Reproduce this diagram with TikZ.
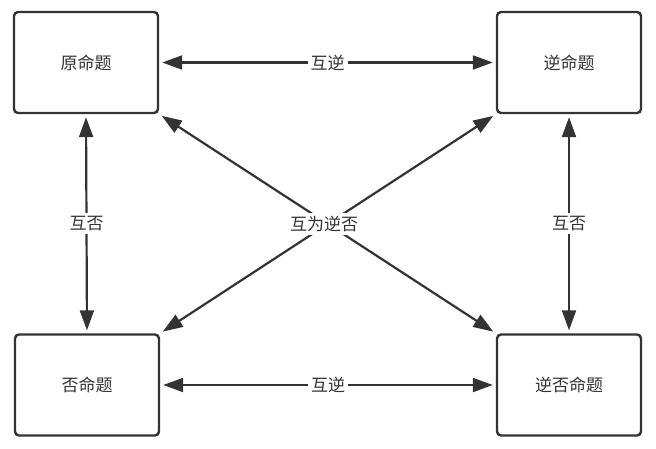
\documentclass[tikz,border=0pt]{standalone}
\usepackage{fontspec}
\setmainfont{Noto Sans CJK SC}
\usetikzlibrary{arrows.meta}
\definecolor{ink}{HTML}{333333}
\begin{document}
\begin{tikzpicture}[x=1pt,y=-1pt,
  box/.style={draw=ink, line width=2.4pt, rounded corners=4pt, fill=white, minimum width=144pt, minimum height=101pt, inner sep=0pt, font=\fontsize{17}{20}\selectfont, text=ink},
  link/.style={draw=ink, line width=2.2pt, {Triangle[length=20pt,width=14pt]}-{Triangle[length=20pt,width=14pt]}, shorten <=3pt, shorten >=3pt},
  lab/.style={fill=white, inner sep=3pt, font=\fontsize{17}{20}\selectfont, text=ink}]
\useasboundingbox (0,0) rectangle (656,448);
\node[box] (a) at (86,62.5) {原命题};
\node[box] (b) at (569,62.5) {逆命题};
\node[box] (c) at (87,385) {否命题};
\node[box] (d) at (569,385) {逆否命题};
\draw[link] (a.east) -- node[lab] (l1) {互逆} (b.west);
\draw[link] (c.east) -- node[lab] (l2) {互逆} (d.west);
\draw[link] (a.south) -- node[lab] (l3) {互否} (c.north);
\draw[link] (b.south) -- node[lab] (l4) {互否} (d.north);
\draw[link] (a.south east) -- (d.north west);
\draw[link] (b.south west) -- (c.north east);
\node[lab] (l5) at (324,224) {互为逆否};
\end{tikzpicture}
\end{document}
